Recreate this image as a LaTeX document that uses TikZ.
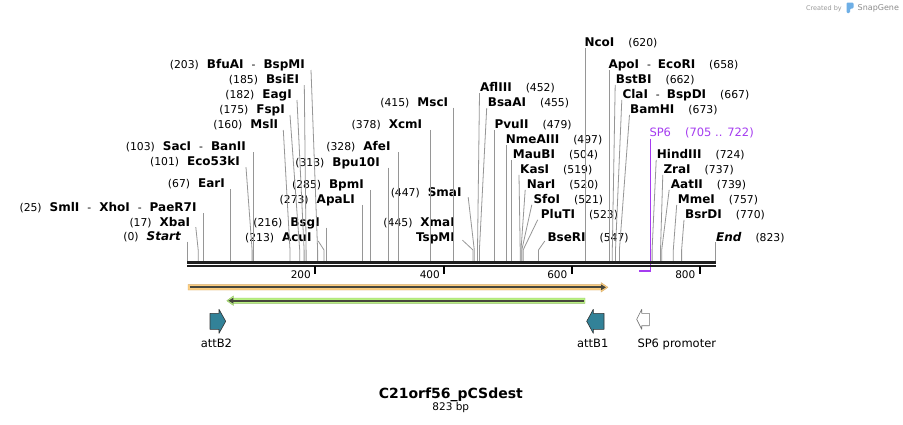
\documentclass[tikz,border=0pt]{standalone}
\usepackage{fontspec}
\setmainfont{DejaVu Sans}
\usetikzlibrary{arrows.meta,calc}

\definecolor{cutgray}{RGB}{150,150,150}
\definecolor{sppurple}{RGB}{165,60,240}
\definecolor{bandorange}{RGB}{252,205,128}
\definecolor{bandgreen}{RGB}{185,240,130}
\definecolor{attteal}{RGB}{50,130,152}
\definecolor{featline}{RGB}{70,70,60}
\definecolor{logoblue}{RGB}{110,175,230}

\newcommand{\ename}[1]{{\fontsize{12}{13}\selectfont\bfseries #1}}

\begin{document}
\begin{tikzpicture}[x=1pt, y=-1pt,
    lbl/.style={inner sep=0pt, font=\fontsize{10.8}{12}\selectfont},
    lft/.style={lbl, anchor=base east},
    rgt/.style={lbl, anchor=base west},
    cut/.style={draw=cutgray, line width=0.8pt},
    feat/.style={draw=black!80, line width=0.6pt, fill=attteal, line join=round}]

    % Canvas
    \fill[white] (0,0) rectangle (903,424);

    % Watermark
    \node[anchor=base east, inner sep=0pt, font=\fontsize{6.5}{8}\selectfont, text=black!40] (made) at (842,10) {Created by};
    \fill[logoblue, rounded corners=1.2pt] (846.5,2.5) -- (853.5,2.5) -- (853.5,8.5) -- (850,8.5) -- (850,13) -- (846.5,13) -- cycle;
    \node[anchor=base west, inner sep=0pt, font=\fontsize{8}{9}\selectfont, text=black!45] (snap) at (857.5,10.5) {SnapGene};

    % Cut sites on the backbone
    \coordinate (kink) at (0,250);
    \coordinate (s0) at (187.3,261);
    \coordinate (s17) at (198.2,261);
    \coordinate (s25) at (203.4,261);
    \coordinate (s67) at (230.3,261);
    \coordinate (s101) at (252.1,261);
    \coordinate (s103) at (253.4,261);
    \coordinate (s160) at (290.0,261);
    \coordinate (s175) at (299.7,261);
    \coordinate (s182) at (304.1,261);
    \coordinate (s185) at (306.1,261);
    \coordinate (s203) at (317.6,261);
    \coordinate (s213) at (324.0,261);
    \coordinate (s216) at (326.0,261);
    \coordinate (s273) at (362.6,261);
    \coordinate (s285) at (370.3,261);
    \coordinate (s313) at (388.2,261);
    \coordinate (s328) at (397.9,261);
    \coordinate (s378) at (430.0,261);
    \coordinate (s415) at (453.7,261);
    \coordinate (s445) at (473.0,261);
    \coordinate (s447) at (474.3,261);
    \coordinate (s452) at (477.5,261);
    \coordinate (s455) at (479.4,261);
    \coordinate (s479) at (494.8,261);
    \coordinate (s497) at (506.4,261);
    \coordinate (s504) at (511.2,261);
    \coordinate (s519) at (520.2,261);
    \coordinate (s520) at (521.0,261);
    \coordinate (s521) at (521.8,261);
    \coordinate (s523) at (523.1,261);
    \coordinate (s547) at (538.5,261);
    \coordinate (s620) at (585.0,261);
    \coordinate (s658) at (609.4,261);
    \coordinate (s662) at (612.3,261);
    \coordinate (s667) at (615.5,261);
    \coordinate (s673) at (619.4,261);
    \coordinate (s724) at (652.1,261);
    \coordinate (s737) at (660.5,261);
    \coordinate (s739) at (661.7,261);
    \coordinate (s757) at (673.3,261);
    \coordinate (s770) at (681.6,261);
    \coordinate (s823) at (715.7,261);
    \coordinate (p705) at (639.0,271);
    \coordinate (p722) at (650.4,271);

    % Enzymes, left side
    \node[lft] (BfuAI) at (305,68.5) {(203)\hspace{8pt}\ename{BfuAI}\hspace{8pt}-\hspace{8pt}\ename{BspMI}};
    \node[lft] (BsiEI) at (299.3,83.5) {(185)\hspace{8pt}\ename{BsiEI}};
    \node[lft] (EagI) at (292,98.5) {(182)\hspace{8pt}\ename{EagI}};
    \node[lft] (FspI) at (285,113.5) {(175)\hspace{8pt}\ename{FspI}};
    \node[lft] (MslI) at (278.3,128.5) {(160)\hspace{8pt}\ename{MslI}};
    \node[lft] (SacI) at (246,150.7) {(103)\hspace{8pt}\ename{SacI}\hspace{8pt}-\hspace{8pt}\ename{BanII}};
    \node[lft] (Eco53kI) at (240,165.7) {(101)\hspace{8pt}\ename{Eco53kI}};
    \node[lft] (EarI) at (225,187.7) {(67)\hspace{8pt}\ename{EarI}};
    \node[lft] (SmlI) at (196.7,211.7) {(25)\hspace{8pt}\ename{SmlI}\hspace{8pt}-\hspace{8pt}\ename{XhoI}\hspace{8pt}-\hspace{8pt}\ename{PaeR7I}};
    \node[lft] (XbaI) at (190.3,226.7) {(17)\hspace{8pt}\ename{XbaI}};
    \node[lft] (Start) at (181,240.7) {(0)\hspace{8pt}\ename{\itshape Start}};

    % Enzymes, middle
    \node[lft] (Bpu10I) at (380,166) {(313)\hspace{8pt}\ename{Bpu10I}};
    \node[lft] (BpmI) at (364,188.3) {(285)\hspace{8pt}\ename{BpmI}};
    \node[lft] (ApaLI) at (355,203.3) {(273)\hspace{8pt}\ename{ApaLI}};
    \node[lft] (BsgI) at (320,226) {(216)\hspace{8pt}\ename{BsgI}};
    \node[lft] (AcuI) at (311.7,241) {(213)\hspace{8pt}\ename{AcuI}};
    \node[lft] (AfeI) at (390.7,150.7) {(328)\hspace{8pt}\ename{AfeI}};
    \node[lft] (XcmI) at (422.3,128.3) {(378)\hspace{8pt}\ename{XcmI}};
    \node[lft] (MscI) at (448.3,106) {(415)\hspace{8pt}\ename{MscI}};
    \node[lft] (SmaI) at (461.7,196.7) {(447)\hspace{8pt}\ename{SmaI}};
    \node[lft] (XmaI) at (455,226.7) {(445)\hspace{8pt}\ename{XmaI}};
    \node[lft] (TspMI) at (455,241.7) {\ename{TspMI}};

    % Enzymes, right side
    \node[rgt] (AflIII) at (480,91.7) {\ename{AflIII}\hspace{14pt}(452)};
    \node[rgt] (BsaAI) at (487.7,106.7) {\ename{BsaAI}\hspace{14pt}(455)};
    \node[rgt] (PvuII) at (494.3,128.3) {\ename{PvuII}\hspace{14pt}(479)};
    \node[rgt] (NmeAIII) at (505.7,143.3) {\ename{NmeAIII}\hspace{14pt}(497)};
    \node[rgt] (MauBI) at (512.7,158.3) {\ename{MauBI}\hspace{14pt}(504)};
    \node[rgt] (KasI) at (520,173.3) {\ename{KasI}\hspace{14pt}(519)};
    \node[rgt] (NarI) at (526.7,188.3) {\ename{NarI}\hspace{14pt}(520)};
    \node[rgt] (SfoI) at (533.3,203.3) {\ename{SfoI}\hspace{14pt}(521)};
    \node[rgt] (PluTI) at (540.7,218.3) {\ename{PluTI}\hspace{14pt}(523)};
    \node[rgt] (BseRI) at (547.3,241) {\ename{BseRI}\hspace{14pt}(547)};
    \node[rgt] (NcoI) at (584.3,46.7) {\ename{NcoI}\hspace{14pt}(620)};
    \node[rgt] (ApoI) at (608.3,68.3) {\ename{ApoI}\hspace{8pt}-\hspace{7pt}\ename{EcoRI}\hspace{14pt}(658)};
    \node[rgt] (BstBI) at (615.7,83.3) {\ename{BstBI}\hspace{14pt}(662)};
    \node[rgt] (ClaI) at (622.3,98.3) {\ename{ClaI}\hspace{8pt}-\hspace{7pt}\ename{BspDI}\hspace{14pt}(667)};
    \node[rgt] (BamHI) at (630,113.3) {\ename{BamHI}\hspace{14pt}(673)};
    \node[rgt, text=sppurple, font=\fontsize{11.5}{13}\selectfont] (SP6) at (649.3,136) {SP6\hspace{14pt}(705 .. 722)};
    \node[rgt] (HindIII) at (656.7,158.3) {\ename{HindIII}\hspace{14pt}(724)};
    \node[rgt] (ZraI) at (663.3,173.3) {\ename{ZraI}\hspace{14pt}(737)};
    \node[rgt] (AatII) at (670.7,188.3) {\ename{AatII}\hspace{14pt}(739)};
    \node[rgt] (MmeI) at (677.7,203.3) {\ename{MmeI}\hspace{14pt}(757)};
    \node[rgt] (BsrDI) at (685,218.3) {\ename{BsrDI}\hspace{14pt}(770)};
    \node[rgt] (End) at (716,241.7) {\ename{\itshape End}\hspace{14pt}(823)};

    % Leader lines
    \draw[cut] ([shift={(6,1.5)}]BfuAI.base east) -- (s203 |- kink) -- (s203);
    \draw[cut] ([shift={(5,1.5)}]BsiEI.base east) -- (s185 |- kink) -- (s185);
    \draw[cut] ([shift={(5,1.5)}]EagI.base east) -- (s182 |- kink) -- (s182);
    \draw[cut] ([shift={(5,1.5)}]FspI.base east) -- (s175 |- kink) -- (s175);
    \draw[cut] ([shift={(5,1.5)}]MslI.base east) -- (s160 |- kink) -- (s160);
    \draw[cut] ($(s103 |- SacI.base)+(0,1.5)$) -- (s103);
    \draw[cut] ([shift={(6,1.5)}]Eco53kI.base east) -- (s101 |- kink) -- (s101);
    \draw[cut] ($(s67 |- EarI.base)+(0,1.5)$) -- (s67);
    \draw[cut] ($(s25 |- SmlI.base)+(0,1.5)$) -- (s25);
    \draw[cut] ([shift={(5.5,0.5)}]XbaI.base east) -- (s17 |- kink) -- (s17);
    \draw[cut] ($(s0 |- Start.base)+(0,1)$) -- (s0);
    \draw[cut] ($(s313 |- Bpu10I.base)+(0,1.5)$) -- (s313);
    \draw[cut] ($(s285 |- BpmI.base)+(0,1.5)$) -- (s285);
    \draw[cut] ($(s273 |- ApaLI.base)+(0,1.5)$) -- (s273);
    \draw[cut] ($(s216 |- BsgI.base)+(0,1.5)$) -- (s216);
    \draw[cut] ([shift={(6.5,0)}]AcuI.base east) -- (s213 |- kink) -- (s213);
    \draw[cut] ($(s328 |- AfeI.base)+(0,1.5)$) -- (s328);
    \draw[cut] ($(s378 |- XcmI.base)+(0,1.5)$) -- (s378);
    \draw[cut] ($(s415 |- MscI.base)+(0,1.5)$) -- (s415);
    \draw[cut] ([shift={(6.5,0.5)}]SmaI.base east) -- (s447 |- kink) -- (s447);
    \draw[cut] ([shift={(7.5,-1.5)}]TspMI.base east) -- (s445 |- kink) -- (s445);
    \draw[cut] ([shift={(-0.5,1.5)}]AflIII.base west) -- (s452 |- kink) -- (s452);
    \draw[cut] ([shift={(-1,1.5)}]BsaAI.base west) -- (s455 |- kink) -- (s455);
    \draw[cut] ($(s479 |- PvuII.base)+(0,1.5)$) -- (s479);
    \draw[cut] ($(s497 |- NmeAIII.base)+(0,1.5)$) -- (s497);
    \draw[cut] ($(s504 |- MauBI.base)+(0,1.5)$) -- (s504);
    \draw[cut] ([shift={(-1,1.5)}]KasI.base west) -- (s519 |- kink) -- (s519);
    \draw[cut] ([shift={(-1.5,1.5)}]NarI.base west) -- (s520 |- kink) -- (s520);
    \draw[cut] ([shift={(-1.5,1.5)}]SfoI.base west) -- (s521 |- kink) -- (s521);
    \draw[cut] ([shift={(-3,1.5)}]PluTI.base west) -- (s523 |- kink) -- (s523);
    \draw[cut] ([shift={(-2.5,0)}]BseRI.base west) -- (s547 |- kink) -- (s547);
    \draw[cut] ($(s620 |- NcoI.base)+(0,1.5)$) -- (s620);
    \draw[cut] ($(s658 |- ApoI.base)+(0,2)$) -- (s658);
    \draw[cut] ([shift={(-0.5,1.5)}]BstBI.base west) -- (s662 |- kink) -- (s662);
    \draw[cut] ([shift={(-0.5,1.5)}]ClaI.base west) -- (s667 |- kink) -- (s667);
    \draw[cut] ([shift={(-0.5,1.5)}]BamHI.base west) -- (s673 |- kink) -- (s673);
    \draw[cut] ([shift={(-0.5,1.5)}]HindIII.base west) -- (s724 |- kink) -- (s724);
    \draw[cut] ([shift={(-0.5,1.5)}]ZraI.base west) -- (s737 |- kink) -- (s737);
    \draw[cut] ([shift={(-1.5,1.5)}]AatII.base west) -- (s739 |- kink) -- (s739);
    \draw[cut] ([shift={(-1,1.5)}]MmeI.base west) -- (s757 |- kink) -- (s757);
    \draw[cut] ([shift={(-1,1.5)}]BsrDI.base west) -- (s770 |- kink) -- (s770);
    \draw[cut] ($(s823 |- End.base)+(0,0.5)$) -- (s823);

    % SP6 primer mark
    \draw[sppurple, line width=1.2pt] ($(p722 |- SP6.base)+(0,2.5)$) -- (p722) -- (p705);

    % Backbone
    \draw[black!88, line width=3.3pt] (187.3,262.4) -- (715.7,262.4);
    \draw[black!88, line width=2pt] (187.3,266.3) -- (715.7,266.3);

    % Ruler
    \draw[line width=2pt] (315,266) -- (315,274);
    \draw[line width=2pt] (444,266) -- (444,274);
    \draw[line width=2pt] (571.5,266) -- (571.5,274);
    \draw[line width=2pt] (699.5,266) -- (699.5,274);
    \node[lbl, anchor=base east, font=\fontsize{10.5}{12}\selectfont] (t200) at (311,278.5) {200};
    \node[lbl, anchor=base east, font=\fontsize{10.5}{12}\selectfont] (t400) at (440,278.5) {400};
    \node[lbl, anchor=base east, font=\fontsize{10.5}{12}\selectfont] (t600) at (567.5,278.5) {600};
    \node[lbl, anchor=base east, font=\fontsize{10.5}{12}\selectfont] (t800) at (695.5,278.5) {800};

    % Forward feature
    \filldraw[fill=bandorange, draw=bandorange!85!black, line width=0.4pt, line join=round]
        (188,284.6) -- (601,284.6) -- (601,282.5) -- (608,287.3) -- (601,292.1) -- (601,290) -- (188,290) -- cycle;
    \draw[featline, line width=1.8pt, -{Triangle[length=5pt,width=5.5pt]}] (189.5,287.3) -- (606,287.3);

    % Reverse feature
    \filldraw[fill=bandgreen, draw=bandgreen!80!black, line width=0.4pt, line join=round]
        (585,298) -- (233.5,298) -- (233.5,295.9) -- (226.7,300.7) -- (233.5,305.5) -- (233.5,303.4) -- (585,303.4) -- cycle;
    \draw[featline, line width=1.8pt, -{Triangle[length=5pt,width=5.5pt]}] (583.5,300.7) -- (228.3,300.7);

    % attB and promoter features
    \filldraw[feat] (210,313.3) -- (219,313.3) -- (219,309.3) -- (225.7,321.3) -- (219,333.3) -- (219,329.3) -- (210,329.3) -- cycle;
    \filldraw[feat] (604,313.3) -- (593.3,313.3) -- (593.3,309.3) -- (586.7,321.3) -- (593.3,333.3) -- (593.3,329.3) -- (604,329.3) -- cycle;
    \filldraw[feat, fill=white, draw=black!55] (649.3,313.3) -- (641.7,313.3) -- (641.7,309.3) -- (636.7,319.3) -- (641.7,329.3) -- (641.7,325.7) -- (649.3,325.7) -- cycle;
    \node[lbl, anchor=base, font=\fontsize{11.5}{13}\selectfont] (attB2) at (216.4,347) {attB2};
    \node[lbl, anchor=base, font=\fontsize{11.5}{13}\selectfont] (attB1) at (592.8,347) {attB1};
    \node[lbl, anchor=base west, font=\fontsize{11.5}{13}\selectfont] (SP6prom) at (637.3,347) {SP6 promoter};

    % Title
    \node[inner sep=0pt, anchor=base, font=\fontsize{14}{16}\selectfont\bfseries] (title) at (450.8,398) {C21orf56\_pCSdest};
    \node[inner sep=0pt, anchor=base, font=\fontsize{10.5}{12}\selectfont] (length) at (450.8,410.7) {823 bp};
\end{tikzpicture}
\end{document}
